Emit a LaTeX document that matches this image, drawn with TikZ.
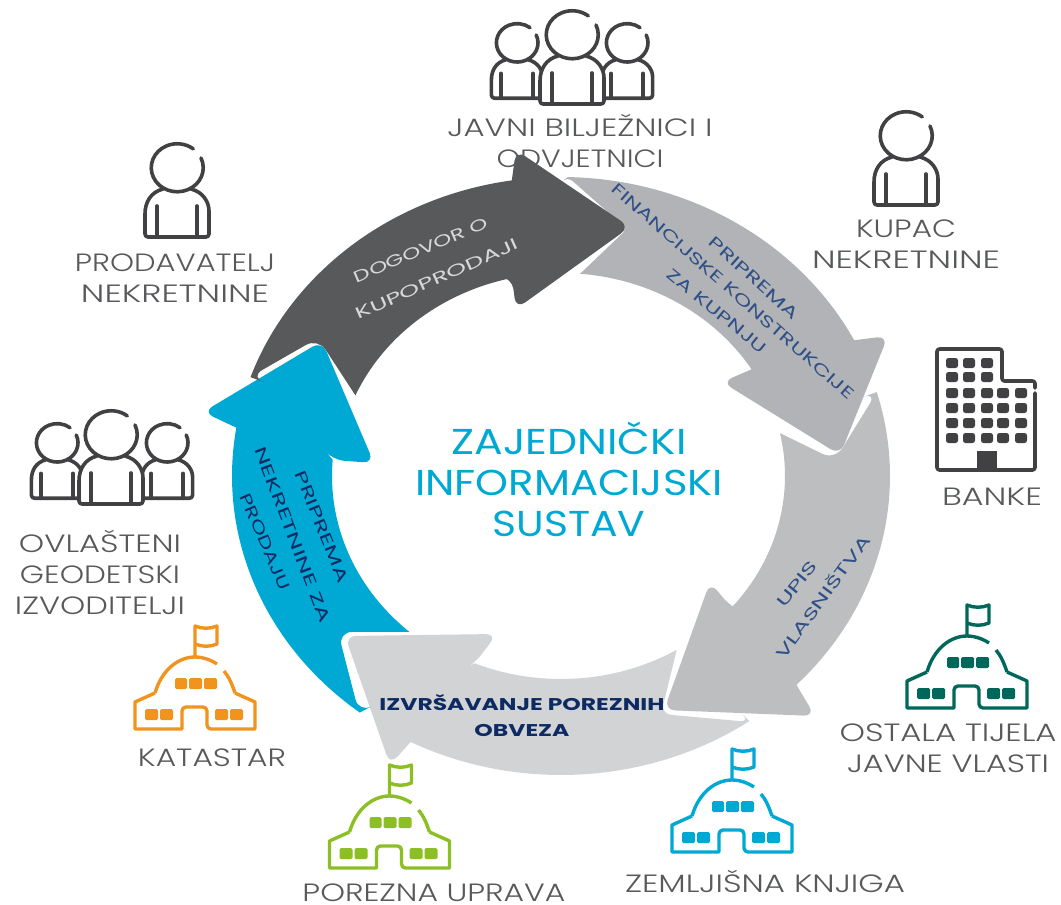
\documentclass[tikz,border=0pt]{standalone}
\usepackage{fontspec}
\setmainfont{Poppins}
\newfontfamily\lightfont{Poppins}[UprightFont=* Light]
\newfontfamily\boldfont{Poppins}[UprightFont=* Bold]
\definecolor{labgrey}{HTML}{58595B}
\definecolor{icongrey}{HTML}{414042}
\definecolor{arrowdark}{HTML}{58595B}
\definecolor{arrowblue}{HTML}{00A9D4}
\definecolor{greyone}{HTML}{B1B3B6}
\definecolor{greytwo}{HTML}{BCBEC0}
\definecolor{greythree}{HTML}{D1D3D4}
\definecolor{arrowtext}{HTML}{2F5086}
\definecolor{navytext}{HTML}{0D2A63}
\definecolor{lighttext}{HTML}{D8D8D8}
\definecolor{orangeicon}{HTML}{F0941E}
\definecolor{greenicon}{HTML}{8CBF26}
\definecolor{tealicon}{HTML}{00685B}
\newcommand{\wb}[2]{\resizebox{#1pt}{\height}{#2}}
\newcommand{\ringfirst}[4]{({561+#1*cos(#3)},{476+#2*sin(#3)}) arc[start angle=#3,end angle=#4,x radius=#1,y radius=#2]}
\newcommand{\ringnext}[4]{-- ({561+#1*cos(#3)},{476+#2*sin(#3)}) arc[start angle=#3,end angle=#4,x radius=#1,y radius=#2]}
\tikzset{
  lab/.style={text=labgrey,inner sep=0pt,align=center,font=\lightfont\fontsize{25}{31}\selectfont},
  titlelab/.style={text=arrowblue,inner sep=0pt,align=center,font=\rmfamily\fontsize{36}{41}\selectfont},
  boldlab/.style={text=navytext,inner sep=0pt,align=center,font=\boldfont\fontsize{17}{26}\selectfont},
  onarrow/.style={inner sep=0pt,font=\rmfamily\fontsize{16}{16}\selectfont},
  iconline/.style={draw=icongrey,line width=3.6pt,line cap=round,line join=round},
  bldline/.style={draw=bcol,line width=3.4pt,line join=round},
  person/.pic={
    \draw[iconline,fill=white] (-14,21) .. controls (-26,24) and (-32,34) .. (-32,46) {[rounded corners=3] -- (-32,69) -- (32,69) -- (32,46)} .. controls (32,34) and (26,24) .. (14,21);
    \draw[iconline] (-20,38) -- (-20,67) (20,38) -- (20,67);
    \fill[white] (0,0) ellipse [x radius=26,y radius=24];
    \draw[iconline] (24,-10) arc [start angle=-24,end angle=308,x radius=26,y radius=24];
  },
  building/.pic={
    \draw[bldline] (-40,-36) -- (-60,-27) -- (-60,0) -- (-13,0) {[rounded corners=4] -- (-13,-22) -- (12,-22) -- (12,0)} -- (60,0) -- (60,-27) -- (40,-36);
    \draw[bldline] (-40,-36) .. controls (-33,-60) and (-16,-72) .. (0,-72) .. controls (8,-72) and (16,-69) .. (22,-65);
    \draw[bldline] (29,-58) .. controls (34,-52) and (37,-45) .. (40,-36);
    \draw[bldline] (0,-72) -- (0,-103) .. controls (7,-100) and (15,-100) .. (22,-103) -- (22,-85) .. controls (15,-82) and (7,-82) .. (0,-85);
    \fill[bcol,rounded corners=1.5] (-20,-51) rectangle (-8,-40) (-6,-51) rectangle (7,-40) (9,-51) rectangle (22,-40)
      (-50,-20) rectangle (-37,-9) (-35,-20) rectangle (-22,-9)
      (20,-20) rectangle (33,-9) (35,-20) rectangle (48,-9);
  },
  buildingcol/.code={\colorlet{bcol}{#1}},
}
\begin{document}
\begin{tikzpicture}[x=1pt,y=-1pt]
\useasboundingbox[fill=white] (0,0) rectangle (1061,905);

% labels
\node[lab] (notaries) at (580,141) {\wb{265}{JAVNI BILJEŽNICI I}\\\wb{167}{ODVJETNICI}};
\node[lab] (seller) at (175,278) {\wb{200}{PRODAVATELJ}\\\wb{188}{NEKRETNINE}};
\node[lab] (buyer) at (906,244) {\wb{100}{KUPAC}\\\wb{188}{NEKRETNINE}};
\node[lab] (banks) at (992,497) {\wb{100}{BANKE}};
\node[lab] (surveyors) at (100,572) {\wb{162}{OVLAŠTENI}\\\wb{160}{GEODETSKI}\\\wb{170}{IZVODITELJI}};
\node[lab] (cadastre) at (212,758) {\wb{148}{KATASTAR}};
\node[lab] (tax) at (434,893) {\wb{263}{POREZNA UPRAVA}};
\node[lab] (landreg) at (765,881) {\wb{280}{ZEMLJIŠNA KNJIGA}};
\node[lab] (others) at (948,748) {\wb{217}{OSTALA TIJELA}\\\wb{202}{JAVNE VLASTI}};
\node[titlelab] (center) at (569,479) {\wb{235}{ZAJEDNIČKI}\\\wb{308}{INFORMACIJSKI}\\\wb{153}{SUSTAV}};

% ring arrows
\fill[greyone] \ringfirst{329}{299}{271.2}{333}
  {[rounded corners=11] -- (888,336) -- (840,455) -- (722,382) -- (750,370)}
  \ringnext{224}{203}{328.3}{274.9}
  {[rounded corners=6] -- (627,229) -- (568,177)} -- cycle;
\fill[greytwo] \ringfirst{329}{299}{-16.3}{44.3}
  {[rounded corners=11] -- (815,716) -- (664,710) -- (710,582) -- (730,606)}
  \ringnext{224}{203}{40.2}{-12.2}
  {[rounded corners=14] -- (835,460) -- (877,392)} -- cycle;
\fill[greythree] \ringfirst{329}{299}{55.1}{117.2}
  {[rounded corners=11] -- (390,765) -- (345,636) -- (497,634) -- (475,663)}
  \ringnext{224}{203}{112.7}{58.9}
  {[rounded corners=10] -- (661,714) -- (750,722)} -- cycle;
\fill[arrowblue] \ringfirst{329}{299}{127.7}{189.3}
  {[rounded corners=11] -- (203,412) -- (322,341) -- (374,463) -- (333,460)}
  \ringnext{229}{208}{184.5}{131.5}
  {[rounded corners=14] -- (338,632) -- (359,713)} -- cycle;
\fill[arrowdark] \ringfirst{329}{299}{199.3}{261.4}
  {[rounded corners=11] -- (516,150) -- (630,227) -- (516,309) -- (512,278)}
  \ringnext{224}{203}{257.3}{203.4}
  {[rounded corners=14] -- (318,338) -- (250,377)} -- cycle;

% arrow texts
\node[onarrow,text=lighttext,rotate=23] (dogovor) at (421,250) {\wb{144}{DOGOVOR O}};
\node[onarrow,text=lighttext,rotate=24] (kupoprodaji) at (437,279) {\wb{176}{KUPOPRODAJI}};
\node[onarrow,text=arrowtext,rotate=-42] (priprema1) at (754,278) {\wb{115}{PRIPREMA}};
\node[onarrow,text=arrowtext,rotate=-41.4] (financijske) at (733,291) {\wb{317}{FINANCIJSKE KONSTRUKCIJE}};
\node[onarrow,text=arrowtext,rotate=-39.4] (zakupnju) at (717,311) {\wb{123}{ZA KUPNJU}};
\node[onarrow,text=arrowtext,rotate=51] (upis) at (797,584) {\wb{55}{UPIS}};
\node[onarrow,text=arrowtext,rotate=54] (vlasnistva) at (822,596) {\wb{148}{VLASNIŠTVA}};
\node[onarrow,text=navytext,rotate=-68] (priprema2) at (322,527) {\wb{119}{PRIPREMA}};
\node[onarrow,text=navytext,rotate=-69] (nekretnineza) at (293,535) {\wb{187}{NEKRETNINE ZA}};
\node[onarrow,text=navytext,rotate=-67] (prodaju) at (265,542) {\wb{103}{PRODAJU}};
\node[boldlab] (taxtext) at (522,716) {\wb{285}{IZVRŠAVANJE POREZNIH}\\\wb{95}{OBVEZA}};

% people icons
\pic at (177,168) {person};
\pic[scale=.8] at (517,43) {person};
\pic[scale=.8] at (627,43) {person};
\pic at (572,35) {person};
\pic at (906,136) {person};
\pic[scale=.8] at (57,443) {person};
\pic[scale=.8] at (167,443) {person};
\pic at (111,435) {person};

% government buildings
\pic[buildingcol=orangeicon] at (195,729) {building};
\pic[buildingcol=greenicon] at (389.5,868) {building};
\pic[buildingcol=arrowblue] at (732,852) {building};
\pic[buildingcol=tealicon] at (967,708) {building};

% bank
\draw[iconline,rounded corners=2.5] (1035,393) -- (1035,470) -- (937,470) -- (937,349) -- (1002,349) -- (1002,381) -- (1035,381) -- (1035,388);
\foreach \y in {358,372}{
  \foreach \x in {952,969,987}{
    \fill[icongrey,rounded corners=2.5] (\x-6,\y) rectangle (\x+6,\y+10);
  }
}
\foreach \y in {388,403,418,433}{
  \foreach \x in {952,969,987,1003,1021}{
    \fill[icongrey,rounded corners=2.5] (\x-6,\y) rectangle (\x+6,\y+10);
  }
}
\fill[icongrey] (977,451) rectangle (997,470);
\end{tikzpicture}
\end{document}
